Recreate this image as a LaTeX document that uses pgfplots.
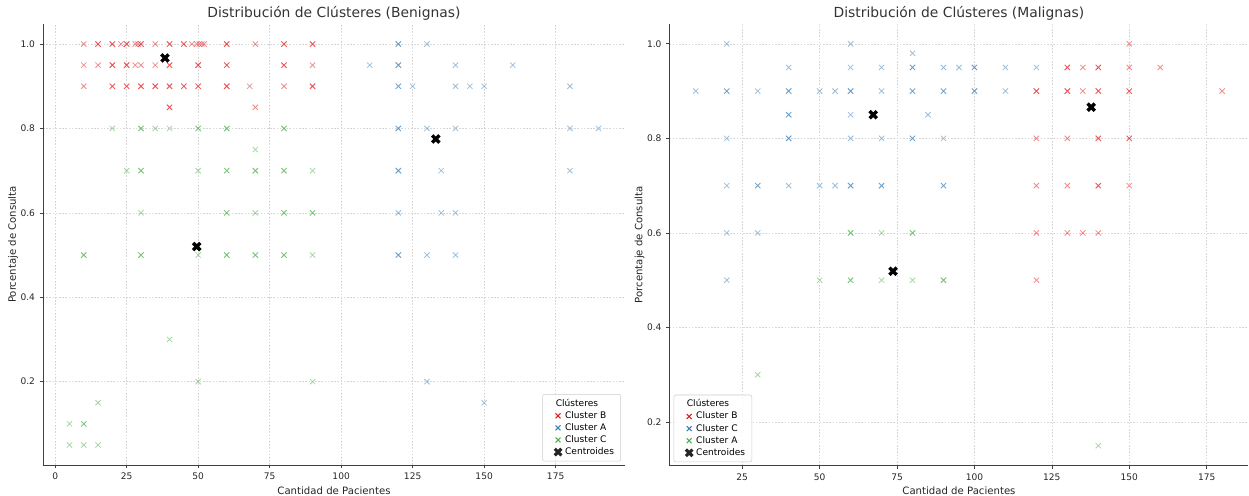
\documentclass[border=0pt]{standalone}
\usepackage{fontspec}
\setmainfont{DejaVu Sans}
\usepackage{pgfplots}
\pgfplotsset{compat=1.18}

\definecolor{cR}{HTML}{E41A1C}
\definecolor{cB}{HTML}{377EB8}
\definecolor{cG}{HTML}{4DAF4A}

% filled "X" marker for the centroids
\pgfdeclareplotmark{filledX}{%
  \pgfpathmoveto{\pgfqpoint{.5\pgfplotmarksize}{0pt}}%
  \pgfpathlineto{\pgfqpoint{\pgfplotmarksize}{.5\pgfplotmarksize}}%
  \pgfpathlineto{\pgfqpoint{.5\pgfplotmarksize}{\pgfplotmarksize}}%
  \pgfpathlineto{\pgfqpoint{0pt}{.5\pgfplotmarksize}}%
  \pgfpathlineto{\pgfqpoint{-.5\pgfplotmarksize}{\pgfplotmarksize}}%
  \pgfpathlineto{\pgfqpoint{-\pgfplotmarksize}{.5\pgfplotmarksize}}%
  \pgfpathlineto{\pgfqpoint{-.5\pgfplotmarksize}{0pt}}%
  \pgfpathlineto{\pgfqpoint{-\pgfplotmarksize}{-.5\pgfplotmarksize}}%
  \pgfpathlineto{\pgfqpoint{-.5\pgfplotmarksize}{-\pgfplotmarksize}}%
  \pgfpathlineto{\pgfqpoint{0pt}{-.5\pgfplotmarksize}}%
  \pgfpathlineto{\pgfqpoint{.5\pgfplotmarksize}{-\pgfplotmarksize}}%
  \pgfpathlineto{\pgfqpoint{\pgfplotmarksize}{-.5\pgfplotmarksize}}%
  \pgfpathclose
  \pgfusepathqfill
}

\pgfplotsset{
  clu/.style={
    scale only axis,
    axis x line*=bottom, axis y line*=left,
    axis line style={-, black!75, line width=0.7pt},
    tick align=outside, major tick length=2.5pt,
    tick style={black!75, line width=0.5pt},
    grid=major,
    major grid style={black!16, line width=0.45pt, dash pattern=on 1.2pt off 1.2pt},
    /pgf/number format/assume math mode=true,
    ticklabel style={font=\fontsize{6.8}{8}\selectfont, text=black!85},
    label style={font=\fontsize{7.6}{9}\selectfont, text=black!85},
    xlabel style={yshift=2pt},
    ylabel style={yshift=-5pt},
    every axis title/.style={font=\fontsize{10.4}{12}\selectfont, text=black!80,
      at={(0.5,1)}, anchor=base, yshift=4.6pt},
    ytick={0.2,0.4,0.6,0.8,1.0},
    yticklabel style={/pgf/number format/.cd, fixed, fixed zerofill, precision=1},
    xlabel={Cantidad de Pacientes},
    ylabel={Porcentaje de Consulta},
    legend cell align=left,
    legend style={font=\fontsize{6.8}{7.5}\selectfont, draw=black!20, rounded corners=1.5pt,
      fill=white, fill opacity=0.85, text opacity=1, inner xsep=3pt, inner ysep=1.5pt, row sep=-1.6pt},
  },
  pts/.style={only marks, mark=x, mark size=2.8pt, line width=0.6pt, opacity=0.5, forget plot},
  cen/.style={only marks, mark=filledX, mark size=3.6pt, black, forget plot},
  lpt/.style={only marks, mark=x, mark size=2.6pt, line width=0.8pt},
}

\begin{document}
\begin{tikzpicture}[x=1pt,y=1pt]
\useasboundingbox (0,0) rectangle (936.75,372);

% ---------- Benignas ----------
\begin{axis}[clu,
  at={(32.25pt,23.25pt)}, anchor=south west,
  width=436.5pt, height=330.75pt,
  xmin=-4.25, xmax=199.25, ymin=0.0025, ymax=1.0475,
  xtick={0,25,...,175},
  title={Distribución de Clústeres (Benignas)},
  legend style={at={(0.993,0.008)}, anchor=south east},
]
% Cluster B
\addplot[pts, cR] coordinates {
 (10,1.0) (15,1.0) (15,1.0) (20,1.0) (20,1.0) (23,1.0) (25,1.0) (25,1.0) (28,1.0) (29,1.0)
 (30,1.0) (30,1.0) (35,1.0) (40,1.0) (40,1.0) (45,1.0) (45,1.0) (47.8,1.0) (49.5,1.0)
 (50.4,1.0) (51.3,1.0) (52.1,1.0) (60,1.0) (60,1.0) (70,1.0) (80,1.0) (80,1.0) (90,1.0) (90,1.0)
 (10,0.95) (15,0.95) (20,0.95) (20,0.95) (25,0.95) (25,0.95) (28,0.95) (30,0.95) (35,0.95)
 (40,0.95) (40,0.95) (50,0.95) (50,0.95) (60,0.95) (60,0.95) (80,0.95) (80,0.95) (90,0.95)
 (10,0.9) (20,0.9) (20,0.9) (25,0.9) (25,0.9) (30,0.9) (30,0.9) (35,0.9) (35,0.9) (40,0.9) (40,0.9)
 (45,0.9) (45,0.9) (50,0.9) (50,0.9) (60,0.9) (60,0.9) (68,0.9) (80,0.9) (90,0.9) (90,0.9)
 (40,0.85) (40,0.85) (70,0.85)
};
% Cluster A
\addplot[pts, cB] coordinates {
 (120,1.0) (120,1.0) (130,1.0)
 (110,0.95) (120,0.95) (120,0.95) (140,0.95) (160,0.95)
 (120,0.9) (120,0.9) (125,0.9) (140,0.9) (145,0.9) (150,0.9) (180,0.9)
 (120,0.8) (120,0.8) (130,0.8) (140,0.8) (180,0.8) (190,0.8)
 (120,0.7) (120,0.7) (135,0.7) (180,0.7)
 (120,0.6) (135,0.6) (140,0.6)
 (120,0.5) (120,0.5) (130,0.5) (140,0.5)
 (130,0.2) (150,0.15)
};
% Cluster C
\addplot[pts, cG] coordinates {
 (20,0.8) (30,0.8) (30,0.8) (35,0.8) (40,0.8) (50,0.8) (50,0.8) (60,0.8) (60,0.8) (80,0.8) (80,0.8)
 (70,0.75)
 (25,0.7) (30,0.7) (30,0.7) (50,0.7) (60,0.7) (60,0.7) (70,0.7) (70,0.7) (80,0.7) (80,0.7) (90,0.7)
 (30,0.6) (60,0.6) (60,0.6) (70,0.6) (80,0.6) (80,0.6) (90,0.6) (90,0.6)
 (10,0.5) (10,0.5) (30,0.5) (30,0.5) (50,0.5) (60,0.5) (60,0.5) (70,0.5) (70,0.5) (80,0.5) (80,0.5) (90,0.5)
 (40,0.3) (50,0.2) (90,0.2) (15,0.15)
 (5,0.1) (10,0.1) (10,0.1) (5,0.05) (10,0.05) (15,0.05)
};
\addplot[cen] coordinates {(38.4,0.967) (49.5,0.52) (133.1,0.775)};
\addlegendimage{empty legend}\addlegendentry{\hspace*{-7pt}Clústeres}
\addlegendimage{lpt, cR}\addlegendentry{Cluster B}
\addlegendimage{lpt, cB}\addlegendentry{Cluster A}
\addlegendimage{lpt, cG}\addlegendentry{Cluster C}
\addlegendimage{only marks, mark=filledX, mark size=3.3pt, black}\addlegendentry{Centroides}
\end{axis}

% ---------- Malignas ----------
\begin{axis}[clu,
  at={(502.1pt,22.7pt)}, anchor=south west,
  width=434.25pt, height=331.5pt,
  xmin=1.5, xmax=188.5, ymin=0.1075, ymax=1.0425,
  xtick={25,50,...,175},
  title={Distribución de Clústeres (Malignas)},
  legend style={at={(0.007,0.008)}, anchor=south west},
]
% Cluster B
\addplot[pts, cR] coordinates {
 (150,1.0)
 (130,0.95) (130,0.95) (135,0.95) (140,0.95) (140,0.95) (150,0.95) (160,0.95)
 (120,0.9) (120,0.9) (130,0.9) (130,0.9) (135,0.9) (140,0.9) (140,0.9) (150,0.9) (150,0.9) (180,0.9)
 (120,0.8) (130,0.8) (140,0.8) (140,0.8) (150,0.8) (150,0.8)
 (120,0.7) (130,0.7) (140,0.7) (140,0.7) (150,0.7)
 (120,0.6) (130,0.6) (135,0.6) (140,0.6)
 (120,0.5)
};
% Cluster C
\addplot[pts, cB] coordinates {
 (20,1.0) (60,1.0) (80,0.98)
 (40,0.95) (60,0.95) (70,0.95) (80,0.95) (80,0.95) (90,0.95) (95,0.95) (100,0.95) (100,0.95) (110,0.95) (120,0.95)
 (10,0.9) (20,0.9) (20,0.9) (30,0.9) (40,0.9) (40,0.9) (50,0.9) (55,0.9) (60,0.9) (60,0.9) (70,0.9)
 (80,0.9) (80,0.9) (90,0.9) (90,0.9) (100,0.9) (100,0.9) (110,0.9)
 (40,0.85) (40,0.85) (60,0.85) (85,0.85)
 (20,0.8) (40,0.8) (40,0.8) (60,0.8) (70,0.8) (80,0.8) (80,0.8) (90,0.8)
 (20,0.7) (30,0.7) (30,0.7) (40,0.7) (50,0.7) (55,0.7) (60,0.7) (60,0.7) (70,0.7) (70,0.7) (90,0.7) (90,0.7)
 (20,0.6) (30,0.6) (20,0.5)
};
% Cluster A
\addplot[pts, cG] coordinates {
 (60,0.6) (60,0.6) (70,0.6) (80,0.6) (80,0.6)
 (50,0.5) (60,0.5) (60,0.5) (70,0.5) (80,0.5) (90,0.5) (90,0.5)
 (30,0.3) (140,0.15)
};
\addplot[cen] coordinates {(67.3,0.850) (137.7,0.866) (73.7,0.519)};
\addlegendimage{empty legend}\addlegendentry{\hspace*{-7pt}Clústeres}
\addlegendimage{lpt, cR}\addlegendentry{Cluster B}
\addlegendimage{lpt, cB}\addlegendentry{Cluster C}
\addlegendimage{lpt, cG}\addlegendentry{Cluster A}
\addlegendimage{only marks, mark=filledX, mark size=3.3pt, black}\addlegendentry{Centroides}
\end{axis}
\end{tikzpicture}
\end{document}
